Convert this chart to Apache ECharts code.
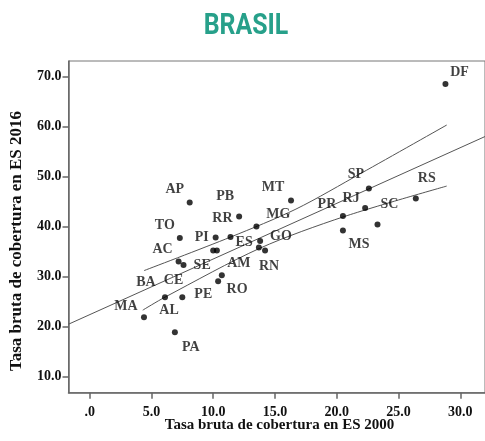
<!DOCTYPE html>
<html>
<head>
<meta charset="utf-8">
<script src="https://cdn.jsdelivr.net/npm/echarts@6/dist/echarts.min.js"></script>
<style>html,body{margin:0;padding:0;background:#fff}#c{width:485px;height:441px}</style>
</head>
<body>
<div id="c"></div>
<script>
// ---- data ----
const states = ['DF','SP','RS','MT','RJ','PR','SC','MS','AP','PB','MG','RR','TO','PI','ES','GO','RN','AC','SE','CE','BA','AM','RO','PE','AL','MA','PA'];
const es2000 = [28.8,22.6,26.4,16.3,22.3,20.5,23.3,20.5,8.1,12.1,13.5,11.4,7.3,10.2,13.8,13.7,14.2,7.2,10.0,7.6,10.3,10.7,10.4,7.5,6.1,4.4,6.9];
const es2016 = [68.5,47.6,45.6,45.2,43.7,42.1,40.4,39.2,44.8,42.0,40.0,37.9,37.7,37.8,37.1,35.8,35.2,33.0,35.2,32.3,35.2,30.3,29.1,25.9,25.9,21.9,18.9];
const xTickValues = [0,5,10,15,20,25,30];
const yTickValues = [10,20,30,40,50,60,70];
// fit line (total) and its 95% band, read at a few x positions
const fitX = [-1.7, 32.0];
const fitY = [20.5, 58.0];
const upperX = [4.4, 11.4, 16.7, 22.0, 28.9];
const upperY = [31.2, 37.9, 43.5, 50.7, 60.3];
const lowerX = [4.3, 6.1, 13.8, 20.6, 28.9];
const lowerY = [23.3, 25.9, 35.7, 42.0, 48.1];

// ---- label placement (style) ----
const labelOffset = {
  DF:[14,-12], SP:[-13,-14], RS:[11,-20], MT:[-18,-13], RJ:[-14,-10], PR:[-16,-12],
  SC:[12,-20], MS:[16,14], AP:[-15,-13], PB:[-14,-20], MG:[22,-12], RR:[-8,-19],
  TO:[-15,-13], PI:[-14,0], ES:[-16,1], GO:[22,-11], RN:[4,16], AC:[-16,-12],
  SE:[-11,15], CE:[-10,15], BA:[-71,32], AM:[17,-12], RO:[19,8], PE:[21,-3],
  AL:[4,13], MA:[-18,-11], PA:[16,15]
};

const serif = '"Liberation Serif","Times New Roman",serif';
const pairs = (xs, ys) => xs.map((x, i) => [x, ys[i]]);

const chart = echarts.init(document.getElementById('c'), null, {renderer: 'canvas'});
chart.setOption({
  animation: false,
  backgroundColor: '#fff',
  grid: {left: 68.5, top: 61, right: -6.9, bottom: 48.3, show: true, borderColor: '#777', borderWidth: 1},
  xAxis: {
    type: 'value', min: -1.71, max: 32,
    axisLine: {show: true, onZero: false, lineStyle: {color: '#666', width: 1.5}},
    axisTick: {show: true, length: 6, inside: false, customValues: xTickValues, lineStyle: {color: '#666', width: 1.5}},
    axisLabel: {customValues: xTickValues, margin: 13, fontFamily: serif, fontWeight: 'bold', fontSize: 14, color: '#111',
      formatter: v => v === 0 ? '.0' : v.toFixed(1)},
    splitLine: {show: false}
  },
  yAxis: {
    type: 'value', min: 6.8, max: 73.1,
    axisLine: {show: true, onZero: false, lineStyle: {color: '#666', width: 1.5}},
    axisTick: {show: true, length: 6, inside: false, customValues: yTickValues, lineStyle: {color: '#666', width: 1.5}},
    axisLabel: {customValues: yTickValues, margin: 7, fontFamily: serif, fontWeight: 'bold', fontSize: 14, color: '#111',
      formatter: v => v.toFixed(1)},
    splitLine: {show: false}
  },
  series: [
    {type: 'line', data: pairs(fitX, fitY), showSymbol: false, silent: true,
      lineStyle: {color: '#555', width: 1}, z: 2},
    {type: 'line', data: pairs(upperX, upperY), showSymbol: false, silent: true, smooth: 0.3,
      lineStyle: {color: '#555', width: 1}, z: 2},
    {type: 'line', data: pairs(lowerX, lowerY), showSymbol: false, silent: true, smooth: 0.3,
      lineStyle: {color: '#555', width: 1}, z: 2},
    {type: 'scatter', symbolSize: 6, itemStyle: {color: '#000'}, z: 3,
      data: states.map((s, i) => ({name: s, value: [es2000[i], es2016[i]], label: {offset: labelOffset[s]}})),
      label: {show: true, position: 'inside', formatter: '{b}', align: 'center', verticalAlign: 'middle',
        fontFamily: serif, fontWeight: 'bold', fontSize: 14, color: '#111'}}
  ],
  graphic: [
    {type: 'text', x: 246, y: 26, scaleX: 0.83, z: 10,
      style: {text: 'BRASIL', fontFamily: 'Roboto, sans-serif', fontWeight: 'bold', fontSize: 30, fill: '#27a08a',
        textAlign: 'center', textVerticalAlign: 'middle'}},
    {type: 'text', x: 279.5, y: 425, z: 10,
      style: {text: 'Tasa bruta de cobertura en ES 2000', fontFamily: serif, fontWeight: 'bold', fontSize: 15, fill: '#111',
        textAlign: 'center', textVerticalAlign: 'middle'}},
    {type: 'text', x: 17, y: 241, rotation: Math.PI / 2, z: 10,
      style: {text: 'Tasa bruta de cobertura en ES 2016', fontFamily: serif, fontWeight: 'bold', fontSize: 17, fill: '#111',
        textAlign: 'center', textVerticalAlign: 'middle'}}
  ]
});
</script>
</body>
</html>
